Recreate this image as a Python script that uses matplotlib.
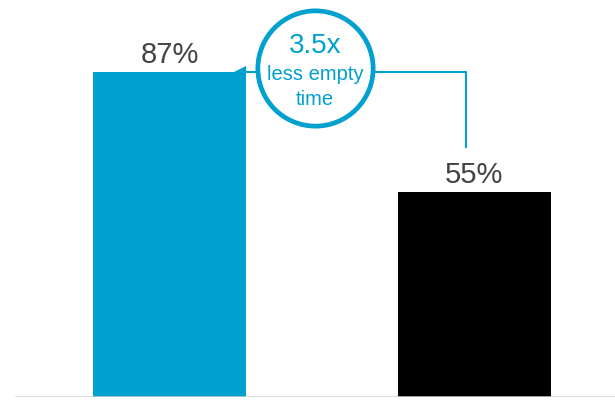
import matplotlib.pyplot as plt

categories = ["A", "B"]
values = [87, 55]
labels = ["87%", "55%"]
colors = ["#00a0cf", "#000000"]
callout_lines = ["3.5x", "less empty", "time"]

plt.rcParams["font.family"] = ["Liberation Sans", "DejaVu Sans"]

fig = plt.figure(figsize=(6.15, 4.0), dpi=100)
ax = fig.add_axes([0, 3 / 400, 1, 397 / 400])
ax.set_xlim(-0.556, 1.461)
ax.set_ylim(0, 106.3)
ax.axis("off")

x = list(range(len(categories)))
ax.bar(x, values, width=0.5, color=colors, zorder=2)
ax.axhline(0, xmin=16 / 615, xmax=1, color="#d0d0d0", lw=1.8, zorder=3)

for xi, v, lab in zip(x, values, labels):
    ax.text(xi, v + 2.4, lab, ha="center", va="baseline", fontsize=21,
            color="#444444")

# callout circle and connectors
blue = colors[0]
cx, cy = 0.477, 88.2
ax.fill([0.21, 0.25, 0.25], [values[0], values[0], values[0] + 1.7],
        color=blue, lw=0, zorder=2)
ax.plot([0.25, cx], [values[0], values[0]], color=blue, lw=1.5, zorder=1)
ax.plot([cx, 0.972, 0.972], [values[0], values[0], 67], color=blue, lw=1.5,
        zorder=1)
ax.plot([cx], [cy], marker="o", ms=83, mfc="white", mec=blue, mew=3.4,
        zorder=4)
ax.text(cx, 92.1, callout_lines[0], ha="center", va="baseline",
        fontsize=20, color=blue, zorder=5)
ax.text(cx, 84.9, callout_lines[1], ha="center", va="baseline",
        fontsize=14.5, color=blue, zorder=5)
ax.text(cx, 78.2, callout_lines[2], ha="center", va="baseline",
        fontsize=14.5, color=blue, zorder=5)

fig.savefig("out.png", dpi=100)
